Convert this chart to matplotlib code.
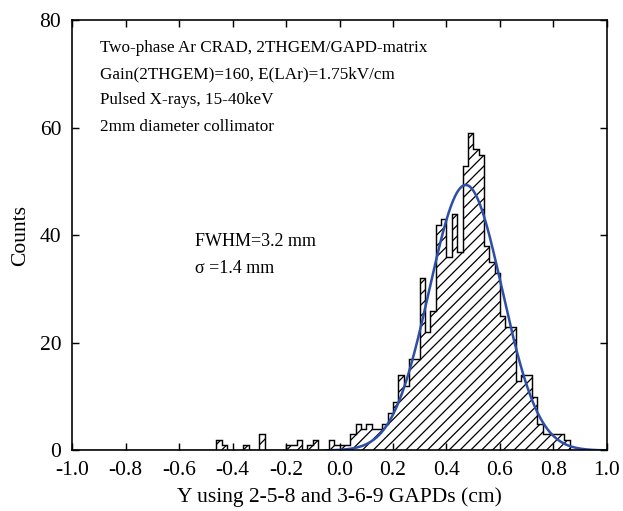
import numpy as np
import matplotlib
matplotlib.use('Agg')
from matplotlib import pyplot as plt

plt.rcParams['font.family'] = ['Liberation Serif', 'DejaVu Serif']
plt.rcParams['hatch.linewidth'] = 0.7

# histogram: bin edges every 0.02 cm from -1.0 to 1.0, counts
bin_edges = np.round(np.arange(-1.0, 1.0001, 0.02), 2)
hist_left = [-0.46, -0.44, -0.36, -0.30, -0.20, -0.18, -0.16, -0.12, -0.10,
             -0.04, -0.02, 0.00, 0.02, 0.04, 0.06, 0.08, 0.10, 0.12, 0.14,
             0.16, 0.18, 0.20, 0.22, 0.24, 0.26, 0.28, 0.30, 0.32, 0.34,
             0.36, 0.38, 0.40, 0.42, 0.44, 0.46, 0.48, 0.50, 0.52, 0.54,
             0.56, 0.58, 0.60, 0.62, 0.64, 0.66, 0.68, 0.70, 0.72, 0.74,
             0.76, 0.78, 0.80, 0.82, 0.84]
hist_counts = [2, 1, 1, 3, 1, 1, 2, 1, 2,
               2, 1, 1, 1, 3, 5, 4, 5, 4, 4,
               5, 7, 9, 14, 12, 17, 17, 32, 22, 26,
               42, 43, 36, 44, 37, 53, 59, 56, 55, 38,
               35, 33, 25, 23, 23, 13, 14, 14, 10, 5,
               3, 3, 3, 3, 2]

# gaussian fit parameters
fit_amp = 49.4
fit_mean = 0.472
fit_sigma = 0.136
fit_range = (-0.05, 1.0)

x_ticks = [-1.0, -0.8, -0.6, -0.4, -0.2, 0.0, 0.2, 0.4, 0.6, 0.8, 1.0]
y_ticks = [0, 20, 40, 60, 80]

info_lines = ["Two-phase Ar CRAD, 2THGEM/GAPD-matrix",
              "Gain(2THGEM)=160, E(LAr)=1.75kV/cm",
              "Pulsed X-rays, 15-40keV",
              "2mm diameter collimator"]
fit_lines = ["FWHM=3.2 mm", "\u03c3 =1.4 mm"]

counts = np.zeros(len(bin_edges) - 1)
for left, c in zip(hist_left, hist_counts):
    counts[int(round((left + 1.0) / 0.02))] = c

fig = plt.figure(figsize=(623 / 130, 511 / 130), dpi=130)
ax = fig.add_axes([0.1156, 0.1184, 0.8587, 0.8415])

ax.stairs(counts, bin_edges, fill=True, facecolor='white', edgecolor='black',
          hatch='////', linewidth=0.8)

xf = np.linspace(fit_range[0], fit_range[1], 400)
yf = fit_amp * np.exp(-0.5 * ((xf - fit_mean) / fit_sigma) ** 2)
ax.plot(xf, yf, color='#2f4fa6', linewidth=1.4)

ax.set_xlim(-1.0, 1.0)
ax.set_ylim(0, 80)
ax.set_xticks(x_ticks)
ax.set_xticklabels(['%.1f' % v for v in x_ticks])
ax.set_yticks(y_ticks)
ax.tick_params(direction='in', top=True, right=True, length=4, width=0.8,
               labelsize=11.9, pad=6)
for s in ax.spines.values():
    s.set_linewidth(0.9)

ax.set_xlabel("Y using 2-5-8 and 3-6-9 GAPDs (cm)", fontsize=11.9, labelpad=4)
ax.set_ylabel("Counts", fontsize=11.9, labelpad=5)

for i, line in enumerate(info_lines):
    ax.text(0.052, 0.936 - i * 0.061, line, transform=ax.transAxes,
            fontsize=9.5, va='center', ha='left')
for i, line in enumerate(fit_lines):
    ax.text(0.23, 0.487 - i * 0.063, line, transform=ax.transAxes,
            fontsize=10, va='center', ha='left')

plt.savefig('out.png', dpi=130)
